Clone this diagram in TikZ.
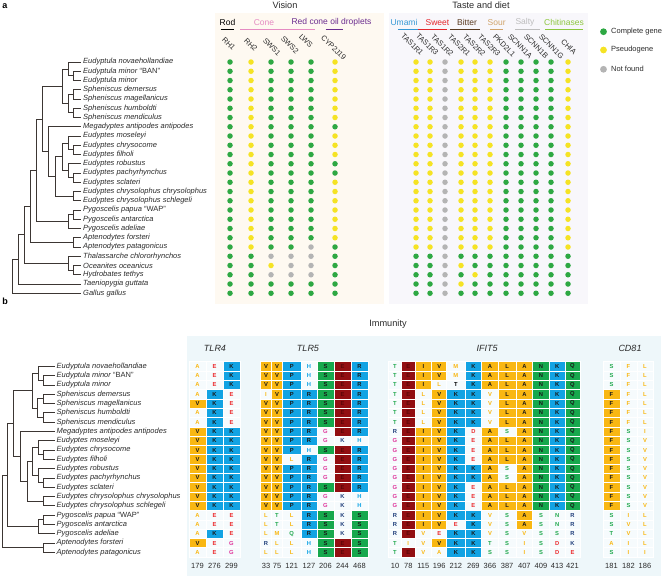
\documentclass[tikz,border=0pt]{standalone}
\usepackage{fontspec}
\setmainfont{Liberation Sans}
\usetikzlibrary{calc}
\definecolor{dgreen}{HTML}{2EA843}
\definecolor{dyellow}{HTML}{F5E324}
\definecolor{dgray}{HTML}{B4B4B4}
\definecolor{visbg}{HTML}{FEF9F1}
\definecolor{tastebg}{HTML}{F8F7FB}
\definecolor{immbg}{HTML}{EEF7FA}
\definecolor{cellbg}{HTML}{F6FBFD}
\definecolor{camber}{HTML}{F9B712}
\definecolor{cblue}{HTML}{12A3E3}
\definecolor{cgreen}{HTML}{17A84D}
\definecolor{cdred}{HTML}{920F12}
\definecolor{cdredtxt}{HTML}{5E0608}
\definecolor{tred}{HTML}{EC2A2D}
\definecolor{tmag}{HTML}{E0369B}
\definecolor{tcyan}{HTML}{14A5E5}
\definecolor{tnavy}{HTML}{1F3D7A}
\definecolor{tgreen}{HTML}{23A94F}
\definecolor{txt}{HTML}{2A2A2A}
\definecolor{treecol}{HTML}{3C3633}
\definecolor{conepink}{HTML}{E58BC2}
\definecolor{oilpurple}{HTML}{6B2D8F}
\definecolor{umami}{HTML}{3598D5}
\definecolor{sweet}{HTML}{E4262B}
\definecolor{bitter}{HTML}{5A3A20}
\definecolor{sour}{HTML}{D0A46B}
\definecolor{salty}{HTML}{BDBDBD}
\definecolor{chit}{HTML}{8DC63F}
\newcommand\fs[1]{\fontsize{#1}{#1}\selectfont}
\newcommand\dotcol[3]{\foreach \c [count=\i from 0] in {#3} {\node[dot\c] (#1-\i) at (#2, 62+9.25*\i) {};}}
\newcommand\alcol[4]{\foreach \L/\T [count=\i from 0] in {#4} {\node[cell, minimum width=#3pt, \T-\L] (#1-\i) at (#2, 366.3+9.3*\i) {\L};}}
\newcommand\clade[4]{%
  \path let \p1=(#3), \p2=(#4) in ({#2pt}, {(\y1+\y2)/2}) coordinate (#1);
  \draw[branch] (#1) |- (#3);
  \draw[branch] (#1) |- (#4);}
\begin{document}
\begin{tikzpicture}[x=1pt,y=-1pt,
  dotg/.style={circle, fill=dgreen, inner sep=0pt, minimum size=5.5pt},
  doty/.style={circle, fill=dyellow, inner sep=0pt, minimum size=5.5pt},
  dotn/.style={circle, fill=dgray, inner sep=0pt, minimum size=5.5pt},
  legdot/.style={circle, inner sep=0pt, minimum size=6.8pt},
  leglbl/.style={anchor=west, font=\fs{7.5}, text=txt, inner sep=0pt},
  title/.style={font=\fs{9.2}, text=txt, inner sep=0pt},
  paneltag/.style={font=\bfseries\fs{9}, text=black, inner sep=0pt},
  grplbl/.style={font=\fs{8.5}, inner sep=0pt},
  uline/.style={line width=1.2pt},
  genelbl/.style={rotate=-45, anchor=west, font=\fs{7.5}, inner sep=0pt, text=txt},
  splabel/.style={anchor=west, font=\itshape\fs{7.5}, inner xsep=2pt, inner ysep=0pt, text=txt},
  branch/.style={draw=treecol, line width=0.8pt},
  genettl/.style={font=\itshape\fs{9}, text=txt, inner sep=0pt},
  poslbl/.style={font=\fs{7.5}, text=txt, inner sep=0pt},
  cell/.style={rectangle, draw=white, line width=0.5pt, minimum height=9.3pt, inner sep=0pt, fill=cellbg, font=\bfseries\fs{5.8}, text=black!90},
  f-V/.style={fill=camber}, f-I/.style={fill=camber}, f-A/.style={fill=camber}, f-L/.style={fill=camber}, f-F/.style={fill=camber},
  f-K/.style={fill=cblue}, f-P/.style={fill=cblue}, f-R/.style={fill=cblue},
  f-S/.style={fill=cgreen}, f-N/.style={fill=cgreen}, f-Q/.style={fill=cgreen},
  f-E/.style={fill=cdred, text=cdredtxt},
  u-A/.style={text=camber}, u-V/.style={text=camber}, u-L/.style={text=camber}, u-I/.style={text=camber}, u-F/.style={text=camber}, u-M/.style={text=camber},
  u-E/.style={text=tred}, u-D/.style={text=tred},
  u-K/.style={text=tnavy}, u-R/.style={text=tnavy},
  u-G/.style={text=tmag}, u-H/.style={text=tcyan},
  u-S/.style={text=tgreen}, u-T/.style={text=tgreen}, u-N/.style={text=tgreen}, u-Q/.style={text=tgreen},
  k-T/.style={text=black}
]
\useasboundingbox (0,0) rectangle (667,576);
% backgrounds
\fill[visbg] (215,13) rectangle (384,304);
\fill[tastebg] (389,13) rectangle (588,304);
\fill[immbg] (187,336) rectangle (661,576);
% titles
\node[paneltag] (tagA) at (5,6) {a};
\node[paneltag] (tagB) at (5,301) {b};
\node[title] (ttlVis) at (285,5.5) {Vision};
\node[title] (ttlTaste) at (481,5.5) {Taste and diet};
\node[title] (ttlImm) at (388,324) {Immunity};
% vision groups
\node[grplbl, text=black] (grRod) at (227.5,22.5) {Rod};
\draw[uline, black] (220.7,29.5) -- (234,29.5);
\node[grplbl, text=conepink] (grCone) at (264,22.5) {Cone};
\draw[uline, conepink] (240,29.5) -- (315,29.5);
\node[grplbl, text=oilpurple] (grOil) at (331.5,22.5) {Red cone oil droplets};
\draw[uline, oilpurple] (325.7,29.5) -- (343.3,29.5);
% taste groups
\node[grplbl, text=umami] (grUm) at (404,22.5) {Umami};
\draw[uline, umami] (398,29.5) -- (418,29.5);
\node[grplbl, text=sweet] (grSw) at (437.5,22.5) {Sweet};
\draw[uline, sweet] (418,29.5) -- (447,29.5);
\node[grplbl, text=bitter] (grBi) at (467,22.5) {Bitter};
\draw[uline, bitter] (450,29.5) -- (480,29.5);
\node[grplbl, text=sour] (grSo) at (496.7,22.5) {Sour};
\draw[uline, sour] (490,29.5) -- (503,29.5);
\node[grplbl, text=salty] (grSa) at (525,22.5) {Salty};
\draw[uline, salty] (515,29.5) -- (540,29.5);
\node[grplbl, text=chit] (grCh) at (564,22.5) {Chitinases};
\draw[uline, chit] (545,29.5) -- (583,29.5);
% gene labels
\node[genelbl] (gRHa) at (223.3,38.3) {RH1};
\node[genelbl] (gRHb) at (245.3,39.3) {RH2};
\node[genelbl] (gSWa) at (264.3,39.3) {SWS1};
\node[genelbl] (gSWb) at (282.3,37.3) {SWS2};
\node[genelbl] (gLWS) at (300.3,35.3) {LWS};
\node[genelbl] (gCYP) at (322.3,36.3) {CYP2J19};
\node[genelbl] (gTa) at (402.3,34.3) {TAS1R1};
\node[genelbl] (gTb) at (417.3,34.3) {TAS1R3};
\node[genelbl] (gTc) at (432.3,35.3) {TAS1R2};
\node[genelbl] (gTd) at (449.3,35.3) {TAS2R1};
\node[genelbl] (gTe) at (464.3,35.3) {TAS2R2};
\node[genelbl] (gTf) at (479.3,35.3) {TAS2R3};
\node[genelbl] (gPK) at (494.3,35.3) {PKD2L1};
\node[genelbl] (gSa) at (509.3,35.3) {SCNN1A};
\node[genelbl] (gSb) at (525.3,35.3) {SCNN1B};
\node[genelbl] (gSg) at (540.3,35.3) {SCNN1G};
\node[genelbl] (gCH) at (562.3,40.3) {CHIA};
% legend
\node[legdot, fill=dgreen] (lgA) at (603.5,31.7) {};
\node[leglbl] (lgAt) at (611,31.7) {Complete gene};
\node[legdot, fill=dyellow] (lgB) at (603.5,50) {};
\node[leglbl] (lgBt) at (611,50) {Pseudogene};
\node[legdot, fill=dgray] (lgC) at (603.5,69.3) {};
\node[leglbl] (lgCt) at (611,69.3) {Not found};
% vision dots
\dotcol{rhone}{230}{g,g,g,g,g,g,g,g,g,g,g,g,g,g,g,g,g,g,g,g,g,g,g,g,g,g}
\dotcol{rhtwo}{251}{y,y,y,y,y,y,y,y,y,y,y,y,y,y,y,y,y,y,y,y,y,g,g,g,g,g}
\dotcol{swsone}{271}{g,g,g,g,g,g,g,g,g,g,g,g,g,g,g,g,g,g,g,g,g,n,y,n,g,g}
\dotcol{swstwo}{291}{g,g,g,g,g,g,g,g,g,g,g,g,g,g,g,g,g,g,g,g,g,n,n,n,g,g}
\dotcol{lws}{311}{g,g,g,g,g,g,g,g,g,g,g,g,g,g,g,g,g,g,g,g,n,n,n,n,g,g}
\dotcol{cyp}{335}{y,y,y,y,y,y,y,g,y,y,y,g,g,y,y,y,y,y,y,y,g,g,g,g,g,g}
% taste dots
\dotcol{tasa}{416}{y,y,y,y,y,y,y,y,y,y,y,y,y,y,y,y,y,y,y,y,y,g,g,g,g,g}
\dotcol{tasb}{430}{y,y,y,y,y,y,y,y,y,y,y,y,y,y,y,y,y,y,y,y,y,g,g,g,g,g}
\dotcol{tasc}{445}{n,n,n,n,n,n,n,n,n,n,n,n,n,n,n,n,n,n,n,n,n,n,n,n,n,n}
\dotcol{tasd}{461}{y,y,y,y,y,y,y,y,y,y,y,y,y,y,y,y,y,y,y,y,y,g,y,g,y,g}
\dotcol{tase}{475}{y,y,y,y,y,y,y,y,y,y,y,y,y,y,y,y,y,y,y,y,y,g,g,y,g,g}
\dotcol{tasf}{490}{y,y,y,y,y,y,y,y,y,y,y,y,y,y,y,y,y,y,y,y,y,g,g,g,g,g}
\dotcol{pkd}{506}{g,g,g,g,g,g,g,g,g,g,g,g,g,g,g,g,g,g,g,g,g,g,g,g,g,g}
\dotcol{scna}{521}{g,g,g,g,g,g,g,g,g,g,g,g,g,g,g,g,g,g,g,g,g,g,g,g,g,g}
\dotcol{scnb}{536}{g,g,g,g,g,g,g,g,g,g,g,g,g,g,g,g,g,g,g,g,g,g,g,g,g,g}
\dotcol{scng}{551}{g,g,g,g,g,g,g,g,g,g,g,g,g,g,g,g,g,g,g,g,g,g,g,g,g,g}
\dotcol{chia}{568}{y,y,y,y,y,y,y,y,y,y,y,y,y,y,y,y,y,y,y,y,y,g,g,g,g,g}
% top species
\foreach \nm [count=\i from 0] in {Eudyptula novaehollandiae, Eudyptula minor \textup{``BAN''}, Eudyptula minor, Spheniscus demersus, Spheniscus magellanicus, Spheniscus humboldti, Spheniscus mendiculus, Megadyptes antipodes antipodes, Eudyptes moseleyi, Eudyptes chrysocome, Eudyptes filholi, Eudyptes robustus, Eudyptes pachyrhynchus, Eudyptes sclateri, Eudyptes chrysolophus chrysolophus, Eudyptes chrysolophus schlegeli, Pygoscelis papua \textup{``WAP''}, Pygoscelis antarctica, Pygoscelis adeliae, Aptenodytes forsteri, Aptenodytes patagonicus, Thalassarche chlororhynchos, Oceanites oceanicus, Hydrobates tethys, Taeniopygia guttata, Gallus gallus} {
  \coordinate (t\i) at (81, 62+9.25*\i);
  \node[splabel] (tl\i) at (t\i) {\nm};
}
% bottom species
\foreach \nm [count=\i from 0] in {Eudyptula novaehollandiae, Eudyptula minor \textup{``BAN''}, Eudyptula minor, Spheniscus demersus, Spheniscus magellanicus, Spheniscus humboldti, Spheniscus mendiculus, Megadyptes antipodes antipodes, Eudyptes moseleyi, Eudyptes chrysocome, Eudyptes filholi, Eudyptes robustus, Eudyptes pachyrhynchus, Eudyptes sclateri, Eudyptes chrysolophus chrysolophus, Eudyptes chrysolophus schlegeli, Pygoscelis papua \textup{``WAP''}, Pygoscelis antarctica, Pygoscelis adeliae, Aptenodytes forsteri, Aptenodytes patagonicus} {
  \coordinate (b\i) at (54.5, 366.3+9.3*\i);
  \node[splabel] (bl\i) at (b\i) {\nm};
}
% top tree
\clade{tEula}{73}{t1}{t2}
\clade{tEul}{68}{t0}{tEula}
\clade{tSpha}{73}{t3}{t4}
\clade{tSphb}{73}{t5}{t6}
\clade{tSph}{68}{tSpha}{tSphb}
\clade{tES}{62}{tEul}{tSph}
\clade{tEa}{73}{t9}{t10}
\clade{tEb}{68}{t8}{tEa}
\clade{tEc}{73}{t12}{t13}
\clade{tEd}{68}{t11}{tEc}
\clade{tEe}{62}{tEb}{tEd}
\clade{tEf}{73}{t14}{t15}
\clade{tEud}{55}{tEe}{tEf}
\clade{tME}{48}{t7}{tEud}
\clade{tEM}{42}{tES}{tME}
\clade{tPya}{73}{t16}{t17}
\clade{tPy}{68}{tPya}{t18}
\clade{tEMP}{36}{tEM}{tPy}
\clade{tApt}{73}{t19}{t20}
\clade{tSphen}{30}{tEMP}{tApt}
\clade{tProa}{73}{t22}{t23}
\clade{tPro}{68}{t21}{tProa}
\clade{tAeq}{24}{tSphen}{tPro}
\clade{tNeo}{18}{tAeq}{t24}
\clade{tRoot}{12}{tNeo}{t25}
% bottom tree
\clade{bEula}{43}{b1}{b2}
\clade{bEul}{38}{b0}{bEula}
\clade{bSpha}{43}{b3}{b4}
\clade{bSphb}{43}{b5}{b6}
\clade{bSph}{37}{bSpha}{bSphb}
\clade{bES}{32}{bEul}{bSph}
\clade{bEa}{43}{b9}{b10}
\clade{bEb}{38}{b8}{bEa}
\clade{bEc}{43}{b12}{b13}
\clade{bEd}{38}{b11}{bEc}
\clade{bEe}{32}{bEb}{bEd}
\clade{bEf}{43}{b14}{b15}
\clade{bEud}{27}{bEe}{bEf}
\clade{bME}{20}{b7}{bEud}
\clade{bEM}{13}{bES}{bME}
\clade{bPya}{43}{b16}{b17}
\clade{bPy}{38}{bPya}{b18}
\clade{bEMP}{7}{bEM}{bPy}
\clade{bApt}{43}{b19}{b20}
\clade{bRoot}{2}{bEMP}{bApt}
% gene titles
\node[genettl] (gnTLRf) at (215,348) {TLR4};
\node[genettl] (gnTLRv) at (308,348) {TLR5};
\node[genettl] (gnIFIT) at (487,348) {IFIT5};
\node[genettl] (gnCD) at (630,348) {CD81};
% TLR4
\alcol{p4a}{197.5}{17}{A/u,A/u,A/u,A/u,V/f,A/u,A/u,V/f,V/f,V/f,V/f,V/f,V/f,V/f,V/f,V/f,A/u,A/u,A/u,V/f,A/u}
\alcol{p4b}{214.5}{17}{E/u,E/u,E/u,K/f,K/f,K/f,K/f,K/f,K/f,K/f,K/f,K/f,K/f,K/f,K/f,K/f,E/u,E/u,K/f,E/u,E/u}
\alcol{p4c}{231.5}{17}{K/f,K/f,K/f,E/u,E/u,E/u,E/u,K/f,K/f,K/f,K/f,K/f,K/f,K/f,K/f,K/f,E/u,E/u,E/u,G/u,G/u}
% TLR5
\alcol{p5a}{266}{11}{V/f,V/f,V/f,I/u,V/f,V/f,V/f,V/f,V/f,V/f,V/f,V/f,V/f,V/f,V/f,V/f,L/u,L/u,L/u,R/u,L/u}
\alcol{p5b}{277}{11}{V/f,V/f,V/f,V/f,V/f,V/f,V/f,V/f,V/f,V/f,V/f,V/f,V/f,V/f,V/f,V/f,T/u,T/u,M/u,L/u,L/u}
\alcol{p5c}{291.75}{18.5}{P/f,P/f,P/f,P/f,P/f,P/f,P/f,P/f,P/f,P/f,L/u,P/f,P/f,P/f,P/f,P/f,L/u,L/u,Q/u,L/u,L/u}
\alcol{p5d}{309}{16}{H/u,H/u,H/u,R/f,R/f,R/f,R/f,R/f,R/f,H/u,R/f,R/f,R/f,R/f,R/f,R/f,R/f,R/f,R/f,H/u,H/u}
\alcol{p5e}{325.5}{17}{S/f,S/f,S/f,S/f,S/f,S/f,S/f,G/u,G/u,S/f,G/u,G/u,G/u,S/f,G/u,G/u,S/f,S/f,S/f,S/f,S/f}
\alcol{p5f}{342.5}{17}{E/f,E/f,E/f,E/f,E/f,E/f,E/f,E/f,K/u,E/f,E/f,E/f,E/f,E/f,K/u,K/u,K/u,K/u,K/u,E/f,E/f}
\alcol{p5g}{359.5}{17}{R/f,R/f,R/f,R/f,R/f,R/f,R/f,R/f,H/u,R/f,R/f,R/f,R/f,R/f,H/u,H/u,S/f,S/f,S/f,S/f,S/f}
% IFIT5
\alcol{ifa}{395}{13}{T/u,T/u,T/u,T/u,T/u,T/u,T/u,R/u,G/u,G/u,G/u,G/u,G/u,G/u,G/u,G/u,R/u,R/u,R/u,T/u,T/u}
\alcol{ifb}{408.25}{13.5}{E/f,E/f,E/f,E/f,E/f,E/f,E/f,E/f,E/f,E/f,E/f,E/f,E/f,E/f,E/f,E/f,E/f,E/f,E/f,I/u,E/f}
\alcol{ifc}{423.35}{16.7}{I/f,I/f,I/f,L/u,L/u,L/u,L/u,I/f,I/f,I/f,I/f,I/f,I/f,I/f,I/f,I/f,I/f,I/f,V/u,V/u,V/u}
\alcol{ifd}{439.2}{15}{V/f,V/f,L/u,V/f,V/f,V/f,V/f,V/f,V/f,V/f,V/f,V/f,V/f,V/f,V/f,V/f,V/f,V/f,E/u,V/f,A/u}
\alcol{ife}{455.85}{18.3}{M/u,M/u,T/k,K/f,K/f,K/f,K/f,K/f,K/f,K/f,K/f,K/f,K/f,K/f,K/f,K/f,K/f,E/u,K/f,K/f,K/f}
\alcol{iff}{473.35}{16.7}{K/f,K/f,K/f,K/f,K/f,K/f,K/f,D/u,E/u,E/u,E/u,K/f,K/f,E/u,E/u,E/u,K/f,K/f,K/f,K/f,K/f}
\alcol{ifg}{490}{16.6}{A/f,A/f,A/f,V/u,V/u,V/u,V/u,A/f,A/f,A/f,A/f,A/f,A/f,A/f,A/f,A/f,V/u,V/u,V/u,T/u,S/u}
\alcol{ifh}{507.15}{17.7}{L/f,L/f,L/f,L/f,L/f,L/f,L/f,S/u,L/f,L/f,L/f,S/u,S/u,L/f,L/f,L/f,S/u,S/u,S/u,S/u,S/u}
\alcol{ifi}{524.35}{16.7}{A/f,A/f,A/f,A/f,A/f,A/f,A/f,A/f,A/f,A/f,A/f,A/f,A/f,A/f,A/f,A/f,A/f,A/f,V/u,I/u,I/u}
\alcol{ifj}{541}{16.6}{N/f,N/f,N/f,N/f,N/f,N/f,N/f,N/f,N/f,N/f,N/f,N/f,N/f,N/f,N/f,N/f,S/u,S/u,S/u,S/u,S/u}
\alcol{ifk}{557.15}{15.7}{K/f,K/f,K/f,K/f,K/f,K/f,K/f,K/f,K/f,K/f,K/f,K/f,K/f,K/f,K/f,K/f,N/u,N/u,S/u,D/u,D/u}
\alcol{ifl}{572.5}{15}{Q/f,Q/f,Q/f,Q/f,Q/f,Q/f,Q/f,Q/f,Q/f,Q/f,Q/f,Q/f,Q/f,Q/f,Q/f,Q/f,R/u,R/u,R/u,K/u,E/u}
% CD81
\alcol{cda}{611.5}{17}{S/u,S/u,S/u,F/f,F/f,F/f,F/f,F/f,F/f,F/f,F/f,F/f,F/f,F/f,F/f,F/f,S/u,S/u,T/u,A/u,S/u}
\alcol{cdb}{628.5}{17}{F/u,F/u,F/u,F/u,F/u,F/u,F/u,S/u,S/u,S/u,S/u,S/u,S/u,S/u,S/u,S/u,I/u,V/u,V/u,I/u,I/u}
\alcol{cdc}{645}{16.5}{L/u,L/u,L/u,L/u,L/u,L/u,L/u,I/u,V/u,V/u,V/u,V/u,V/u,V/u,V/u,V/u,L/u,L/u,L/u,L/u,I/u}
% positions
\foreach \p/\x [count=\k] in {179/197.5,276/214.5,299/231.5,33/266,75/277,121/291.75,127/309,206/325.5,244/342.5,468/359.5,10/395,78/408.25,115/423.35,196/439.2,212/455.85,269/473.35,366/490,387/507.15,407/524.35,409/541,413/557.15,421/572.5,181/611.5,182/628.5,186/645} {
  \node[poslbl] (pos\k) at (\x,565.7) {\p};
}
\end{tikzpicture}
\end{document}
